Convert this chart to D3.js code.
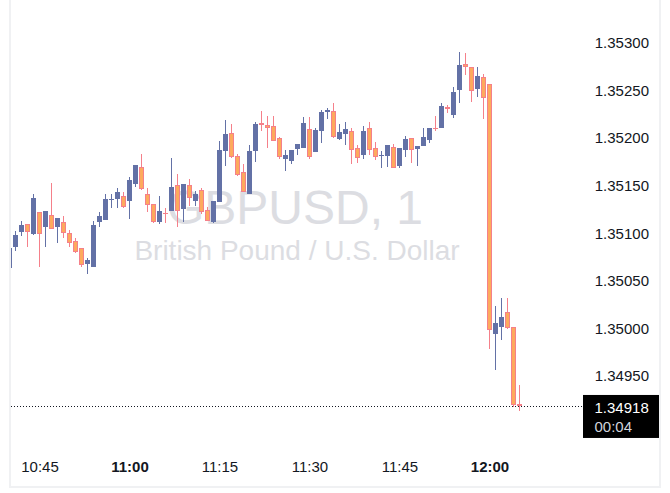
<!DOCTYPE html>
<html><head><meta charset="utf-8">
<script src="https://cdn.jsdelivr.net/npm/d3@7"></script>
<style>html,body{margin:0;padding:0;background:#fff;}svg{display:block}</style>
</head><body>
<svg id="chart" width="670" height="493"></svg>
<script>
// ---- data (1-minute candles, GBPUSD) ----
const startTime = "10:40";
const openPrices = [1.35063,1.35086,1.35101,1.35110,1.35099,1.35122,1.35106,1.35119,1.35106,1.35112,
 1.35100,1.35092,1.35084,1.35068,1.35064,1.35112,1.35114,1.35135,1.35136,1.35139,
 1.35134,1.35152,1.35170,1.35141,1.35131,1.35112,1.35121,1.35123,1.35151,1.35125,
 1.35151,1.35134,1.35145,1.35124,1.35112,1.35133,1.35186,1.35205,1.35181,1.35164,
 1.35141,1.35186,1.35216,1.35214,1.35213,1.35200,1.35178,1.35176,1.35188,1.35190,
 1.35209,1.35185,1.35207,1.35227,1.35228,1.35199,1.35204,1.35207,1.35189,1.35182,
 1.35210,1.35189,1.35181,1.35181,1.35191,1.35171,1.35187,1.35200,1.35188,1.35192,
 1.35198,1.35210,1.35211,1.35233,1.35224,1.35250,1.35278,1.35275,1.35251,1.35264,
 1.35257,1.34994,1.35001,1.35017,1.35001,1.34921];
const highPrices = [1.35086,1.35102,1.35113,1.35110,1.35141,1.35122,1.35123,1.35153,1.35116,1.35118,
 1.35103,1.35095,1.35084,1.35074,1.35113,1.35122,1.35141,1.35141,1.35147,1.35143,
 1.35159,1.35172,1.35183,1.35147,1.35131,1.35139,1.35126,1.35179,1.35162,1.35152,
 1.35157,1.35144,1.35148,1.35127,1.35134,1.35197,1.35219,1.35215,1.35183,1.35173,
 1.35193,1.35217,1.35228,1.35223,1.35223,1.35201,1.35187,1.35187,1.35194,1.35222,
 1.35222,1.35210,1.35229,1.35231,1.35237,1.35215,1.35217,1.35210,1.35193,1.35213,
 1.35217,1.35196,1.35186,1.35193,1.35194,1.35190,1.35202,1.35200,1.35192,1.35211,
 1.35210,1.35223,1.35237,1.35235,1.35254,1.35290,1.35289,1.35275,1.35275,1.35267,
 1.35257,1.35024,1.35032,1.35032,1.35001,1.34941];
const lowPrices = [1.35062,1.35081,1.35097,1.35086,1.35098,1.35065,1.35085,1.35104,1.35090,1.35095,
 1.35086,1.35079,1.35065,1.35057,1.35064,1.35106,1.35114,1.35126,1.35126,1.35126,
 1.35115,1.35149,1.35145,1.35122,1.35111,1.35110,1.35111,1.35123,1.35107,1.35112,
 1.35129,1.35129,1.35120,1.35113,1.35111,1.35133,1.35171,1.35179,1.35160,1.35143,
 1.35141,1.35175,1.35207,1.35190,1.35197,1.35178,1.35165,1.35173,1.35182,1.35190,
 1.35178,1.35185,1.35195,1.35220,1.35200,1.35198,1.35193,1.35173,1.35174,1.35178,
 1.35182,1.35177,1.35168,1.35170,1.35169,1.35168,1.35180,1.35174,1.35171,1.35192,
 1.35195,1.35207,1.35211,1.35226,1.35221,1.35237,1.35266,1.35238,1.35243,1.35220,
 1.34978,1.34956,1.34988,1.34999,1.34917,1.34913];
const closePrices = [1.35084,1.35098,1.35109,1.35101,1.35137,1.35099,1.35123,1.35104,1.35116,1.35100,
 1.35090,1.35080,1.35067,1.35072,1.35109,1.35118,1.35136,1.35136,1.35143,1.35128,
 1.35156,1.35172,1.35146,1.35130,1.35112,1.35123,1.35120,1.35149,1.35123,1.35152,
 1.35137,1.35141,1.35122,1.35113,1.35134,1.35187,1.35204,1.35180,1.35161,1.35143,
 1.35186,1.35215,1.35214,1.35211,1.35197,1.35180,1.35182,1.35187,1.35194,1.35216,
 1.35180,1.35208,1.35227,1.35229,1.35201,1.35206,1.35209,1.35187,1.35179,1.35207,
 1.35187,1.35180,1.35182,1.35193,1.35169,1.35190,1.35199,1.35187,1.35192,1.35201,
 1.35210,1.35209,1.35234,1.35230,1.35248,1.35277,1.35275,1.35249,1.35265,1.35242,
 1.34998,1.35006,1.35012,1.35000,1.34920,1.34918];
const priceTicks = [1.3495,1.3500,1.3505,1.3510,1.3515,1.3520,1.3525,1.3530];
const timeTicks = ["10:45","11:00","11:15","11:30","11:45","12:00"];
const boldTimeTicks = ["11:00","12:00"];
const symbolText = "GBPUSD, 1";
const descriptionText = "British Pound / U.S. Dollar";
const lastPrice = 1.34918;
const countdownText = "00:04";

// ---- helpers ----
const parseHM = s => { const [h,m] = s.split(":").map(Number); return new Date(2024,0,1,h,m); };
const t0 = parseHM(startTime);
const candles = openPrices.map((o,i) => ({
  t: new Date(t0.getTime() + i*60000), o, h: highPrices[i], l: lowPrices[i], c: closePrices[i]
}));

const svg = d3.select("#chart");
const plotLeft = 11, plotRight = 583;

const x = d3.scaleTime()
  .domain([t0, candles[candles.length-1].t])
  .range([9.5, 9.5 + 6*(candles.length-1)]);
const y = d3.scaleLinear().domain([1.3488, 1.3534]).range([442.64, 4.72]);

const UP = "#6371a6", DOWN_FILL = "#fdaa5d", DOWN_STROKE = "#f5808a";
const FONT = "'Liberation Sans', Arial, sans-serif";

// frame
svg.append("rect").attr("x",9).attr("y",0).attr("width",2).attr("height",488).attr("fill","#f0f1f3");
svg.append("rect").attr("x",659).attr("y",0).attr("width",2).attr("height",488).attr("fill","#f0f1f3");
svg.append("rect").attr("x",9).attr("y",486).attr("width",652).attr("height",2).attr("fill","#f0f1f3");

// clip
svg.append("defs").append("clipPath").attr("id","plotclip")
  .append("rect").attr("x",plotLeft).attr("y",0).attr("width",plotRight-plotLeft).attr("height",450);

// watermark
const cx = (plotLeft + plotRight)/2;
svg.append("text").attr("x",cx-2).attr("y",224).attr("text-anchor","middle")
  .attr("font-family",FONT).attr("font-size",48).attr("fill","#dcdde2").text(symbolText);
svg.append("text").attr("x",cx).attr("y",260).attr("text-anchor","middle")
  .attr("font-family",FONT).attr("font-size",28).attr("fill","#dcdde2").text(descriptionText);

// candles
const g = svg.append("g").attr("clip-path","url(#plotclip)");
const cg = g.selectAll("g.c").data(candles).join("g").attr("class","c");
cg.append("line")
  .attr("x1",d=>x(d.t)).attr("x2",d=>x(d.t))
  .attr("y1",d=>Math.round(y(d.h))).attr("y2",d=>Math.round(y(d.l)))
  .attr("stroke",d=>d.c>=d.o?UP:DOWN_STROKE).attr("stroke-width",1);
cg.each(function(d){
  const top = Math.round(y(Math.max(d.o,d.c)));
  const bot = Math.round(y(Math.min(d.o,d.c)));
  const up = d.c>=d.o;
  const sel = d3.select(this);
  const xc = x(d.t);
  if (bot - top < 2) {
    sel.append("rect").attr("x",xc-2.5).attr("y",top).attr("width",5).attr("height",Math.max(1,bot-top))
      .attr("fill",up?UP:DOWN_STROKE);
  } else {
    sel.append("rect").attr("x",xc-2).attr("y",top+0.5).attr("width",4).attr("height",bot-top-1)
      .attr("fill",up?UP:DOWN_FILL).attr("stroke",up?UP:DOWN_STROKE).attr("stroke-width",1);
  }
});

// last price dotted line
const yl = Math.floor(y(lastPrice)) + 0.5;
svg.append("line").attr("x1",plotLeft).attr("x2",plotRight).attr("y1",yl).attr("y2",yl)
  .attr("stroke","#131722").attr("stroke-width",1).attr("stroke-dasharray","1,2");

// price axis
const yAxis = d3.axisLeft(y).tickValues(priceTicks).tickFormat(d3.format(".5f")).tickSize(0).tickPadding(0);
const ya = svg.append("g").attr("transform","translate(649,0)").call(yAxis);
ya.select(".domain").remove();
ya.selectAll("text").attr("font-family",FONT).attr("font-size",15).attr("fill","#131722");

// time axis
const xAxis = d3.axisBottom(x).tickValues(timeTicks.map(parseHM))
  .tickFormat(d3.timeFormat("%H:%M")).tickSize(0).tickPadding(0);
const xa = svg.append("g").attr("transform","translate(0,461)").call(xAxis);
xa.select(".domain").remove();
xa.selectAll("text").attr("font-family",FONT).attr("font-size",15).attr("fill","#131722")
  .attr("font-weight",d=>boldTimeTicks.includes(d3.timeFormat("%H:%M")(d))?"bold":"normal");

// last price label
const boxTop = y(lastPrice) - 11.5;
svg.append("rect").attr("x",583).attr("y",boxTop).attr("width",76).attr("height",43).attr("fill","#000");
svg.append("text").attr("x",594.5).attr("y",y(lastPrice)+6.8).attr("font-family",FONT).attr("font-size",15)
  .attr("fill","#ffffff").text(d3.format(".5f")(lastPrice));
svg.append("text").attr("x",594.5).attr("y",y(lastPrice)+25.5).attr("font-family",FONT).attr("font-size",15)
  .attr("fill","#d1d4dc").text(countdownText);
</script>
</body></html>
